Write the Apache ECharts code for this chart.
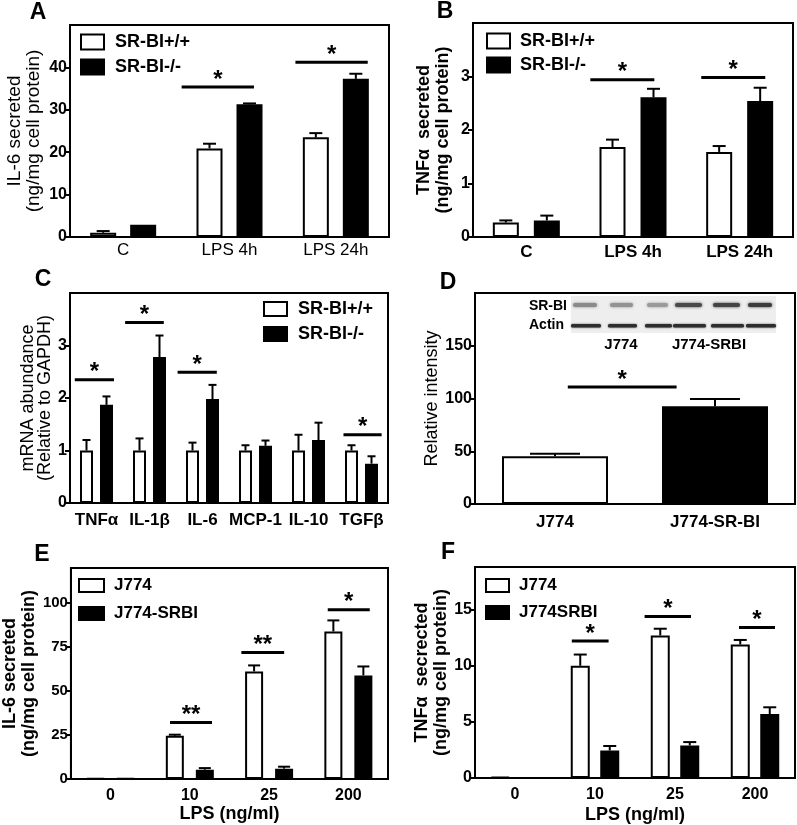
<!DOCTYPE html>
<html><head><meta charset="utf-8">
<script src="https://cdn.jsdelivr.net/npm/echarts@6/dist/echarts.min.js"></script>
<style>html,body{margin:0;padding:0;background:#fff}#c{width:797px;height:825px}</style>
</head><body><div id="c"></div>
<script>
// ---------- Panel A : IL-6 secreted ----------
const catsA = ['C', 'LPS 4h', 'LPS 24h'];
const wtA = [1.0, 20.9, 23.5];
const wtErrA = [1.4, 22.0, 24.5];
const koA = [2.9, 31.3, 37.3];
const koErrA = [3.0, 31.5, 38.5];
const yTicksA = [0, 10, 20, 30, 40];
const sigCatA = [1, 2];
const sigYA = [35.4, 41.2];
const sigSpanA = [[-0.45, 0.23], [-0.38, 0.30]];
const sigTextA = ['*', '*'];

// ---------- Panel B : TNFa secreted ----------
const catsB = ['C', 'LPS 4h', 'LPS 24h'];
const wtB = [0.27, 1.68, 1.59];
const wtErrB = [0.31, 1.82, 1.70];
const koB = [0.31, 2.61, 2.54];
const koErrB = [0.40, 2.77, 2.79];
const yTicksB = [0, 1, 2, 3];
const sigCatB = [1, 2];
const sigYB = [2.94, 2.98];
const sigSpanB = [[-0.40, 0.20], [-0.36, 0.24]];
const sigTextB = ['*', '*'];

// ---------- Panel C : mRNA abundance ----------
const catsC = ['TNFα', 'IL-1β', 'IL-6', 'MCP-1', 'IL-10', 'TGFβ'];
const wtC = [1.0, 1.0, 1.0, 1.0, 1.0, 1.0];
const wtErrC = [1.20, 1.23, 1.15, 1.10, 1.30, 1.10];
const koC = [1.87, 2.78, 1.98, 1.09, 1.20, 0.75];
const koErrC = [2.03, 3.19, 2.25, 1.19, 1.53, 0.89];
const yTicksC = [0, 1, 2, 3];
const sigCatC = [0, 1, 2, 5];
const sigYC = [2.35, 3.44, 2.49, 1.30];
const sigSpanC = [[-0.41, 0.33], [-0.46, 0.27], [-0.47, 0.27], [-0.34, 0.38]];
const sigTextC = ['*', '*', '*', '*'];

// ---------- Panel D : Relative intensity ----------
const catsD = ['J774', 'J774-SR-BI'];
const valD = [45.2, 92.6];
const errD = [47.7, 99.5];
const yTicksD = [0, 50, 100, 150];
const sigCatD = [0];
const sigYD = [111];
const sigSpanD = [[0.08, 0.76]];
const sigTextD = ['*'];
const blotRowLabels = ['SR-BI', 'Actin'];
const blotGroupLabels = ['J774', 'J774-SRBI'];

// ---------- Panel E : IL-6 vs LPS dose ----------
const catsE = ['0', '10', '25', '200'];
const wtE = [0.4, 24.6, 61.2, 83.9];
const wtErrE = [0.4, 25.2, 64.6, 90.2];
const koE = [0.2, 5.3, 5.9, 58.9];
const koErrE = [0.2, 6.2, 7.0, 64.0];
const yTicksE = [0, 25, 50, 75, 100];
const sigCatE = [1, 2, 3];
const sigYE = [32.2, 72, 96.2];
const sigSpanE = [[-0.25, 0.28], [-0.35, 0.19], [-0.26, 0.27]];
const sigTextE = ['**', '**', '*'];

// ---------- Panel F : TNFa vs LPS dose ----------
const catsF = ['0', '10', '25', '200'];
const wtF = [0.1, 10.0, 12.7, 11.9];
const wtErrF = [0.1, 11.0, 13.3, 12.3];
const koF = [0, 2.45, 2.9, 5.7];
const koErrF = [0, 2.85, 3.2, 6.3];
const yTicksF = [0, 5, 10, 15];
const sigCatF = [1, 2, 3];
const sigYF = [12.2, 14.4, 13.4];
const sigSpanF = [[-0.29, 0.17], [-0.38, 0.20], [-0.20, 0.25]];
const sigTextF = ['*', '*', '*'];

const FONT = '"Liberation Sans", Arial, Helvetica, sans-serif';

const panels = [
  { letter: 'A', letterPos: [38, 13], grid: { left: 70, top: 25, width: 319, height: 212 },
    cats: catsA, yMax: 50, yTicks: yTicksA, yName: 'IL-6 secreted\n(ng/mg cell protein)',
    yNameWeight: 'normal', yNameSize: 19, yNameGap: 27, yNameLH: 19,
    xLabelWeight: 'normal', xLabelSize: 17, xMargin: 5,
    series: [{ name: 'SR-BI+/+', data: wtA, err: wtErrA, fill: '#fff' }, { name: 'SR-BI-/-', data: koA, err: koErrA, fill: '#000' }],
    bw: 26, gap: 14, cap: 6.5,
    sig: { cat: sigCatA, y: sigYA, span: sigSpanA, text: sigTextA },
    legend: { left: 80, top: 33, iw: 23, ih: 15, gapY: 7, size: 18, pad: 6 } },
  { letter: 'B', letterPos: [445, 12], grid: { left: 473, top: 23, width: 320, height: 214 },
    cats: catsB, yMax: 4, yTicks: yTicksB, yName: 'TNFα  secreted\n(ng/mg cell protein)',
    yNameWeight: 'bold', yNameSize: 18, yNameGap: 20, yNameLH: 19,
    xLabelWeight: 'bold', xLabelSize: 17, xMargin: 7,
    series: [{ name: 'SR-BI+/+', data: wtB, err: wtErrB, fill: '#fff' }, { name: 'SR-BI-/-', data: koB, err: koErrB, fill: '#000' }],
    bw: 26, gap: 15, cap: 6.5,
    sig: { cat: sigCatB, y: sigYB, span: sigSpanB, text: sigTextB },
    legend: { left: 486, top: 32, iw: 23, ih: 15, gapY: 6, size: 18, pad: 5 } },
  { letter: 'C', letterPos: [43, 280], grid: { left: 70, top: 293, width: 318, height: 210 },
    cats: catsC, yMax: 4, yTicks: yTicksC, yName: 'mRNA abundance\n(Relative to GAPDH)',
    yNameWeight: 'normal', yNameSize: 18, yNameGap: 16, yNameLH: 17,
    xLabelWeight: 'bold', xLabelSize: 17, xMargin: 9,
    series: [{ name: 'SR-BI+/+', data: wtC, err: wtErrC, fill: '#fff' }, { name: 'SR-BI-/-', data: koC, err: koErrC, fill: '#000' }],
    bw: 13, gap: 7, cap: 4,
    sig: { cat: sigCatC, y: sigYC, span: sigSpanC, text: sigTextC },
    legend: { left: 263, top: 300, iw: 23, ih: 14, gapY: 7, size: 18, pad: 6 } },
  { letter: 'D', letterPos: [448, 283], grid: { left: 475, top: 293, width: 320, height: 211 },
    cats: catsD, yMax: 200, yTicks: yTicksD, yName: 'Relative intensity',
    yNameWeight: 'normal', yNameSize: 18, yNameGap: 33, yNameLH: 19,
    xLabelWeight: 'bold', xLabelSize: 17, xMargin: 10,
    single: { name: 'Relative intensity', data: valD, err: errD, fills: ['#fff', '#000'] },
    bw: 106, gap: 0, cap: 25,
    sig: { cat: sigCatD, y: sigYD, span: sigSpanD, text: sigTextD } },
  { letter: 'E', letterPos: [42, 555], grid: { left: 69, top: 568, width: 319, height: 211 },
    cats: catsE, yMax: 120, yTicks: yTicksE, yName: 'IL-6 secreted\n(ng/mg cell protein)',
    yNameWeight: 'bold', yNameSize: 18, yNameGap: 27, yNameLH: 19,
    xLabelWeight: 'bold', xLabelSize: 16, xMargin: 9, xName: 'LPS (ng/ml)', xNameGap: 26,
    series: [{ name: 'J774', data: wtE, err: wtErrE, fill: '#fff' }, { name: 'J774-SRBI', data: koE, err: koErrE, fill: '#000' }],
    bw: 18, gap: 12, cap: 6,
    sig: { cat: sigCatE, y: sigYE, span: sigSpanE, text: sigTextE },
    legend: { left: 78, top: 577, iw: 25, ih: 13, gapY: 11, size: 17, pad: 5 }, tickSize: 15 },
  { letter: 'F', letterPos: [448, 553], grid: { left: 475, top: 567, width: 320, height: 212 },
    cats: catsF, yMax: 18.8, yTicks: yTicksF, yName: 'TNFα  secrected\n(ng/mg cell protein)',
    yNameWeight: 'bold', yNameSize: 18, yNameGap: 24, yNameLH: 19,
    xLabelWeight: 'bold', xLabelSize: 16, xMargin: 9, xName: 'LPS (ng/ml)', xNameGap: 28,
    series: [{ name: 'J774', data: wtF, err: wtErrF, fill: '#fff' }, { name: 'J774SRBI', data: koF, err: koErrF, fill: '#000' }],
    bw: 19, gap: 10.5, cap: 6.5,
    sig: { cat: sigCatF, y: sigYF, span: sigSpanF, text: sigTextF },
    legend: { left: 485, top: 577, iw: 23, ih: 13, gapY: 10, size: 17, pad: 5 } }
];

function errRenderer(offset, capHalf) {
  return function (params, api) {
    const top = api.coord([api.value(0), api.value(1)]);
    const base = api.coord([api.value(0), api.value(2)]);
    if (top[1] >= base[1] - 0.5) return null;
    const x = top[0] + offset;
    return { type: 'group', children: [
      { type: 'line', shape: { x1: x, y1: base[1], x2: x, y2: top[1] }, style: { stroke: '#000', lineWidth: 2 } },
      { type: 'line', shape: { x1: x - capHalf, y1: top[1], x2: x + capHalf, y2: top[1] }, style: { stroke: '#000', lineWidth: 2 } }
    ] };
  };
}
function sigRenderer(sig) {
  return function (params, api) {
    const i = params.dataIndex;
    const p = api.coord([api.value(0), api.value(1)]);
    const bwid = api.size([1, 0])[0];
    const x1 = p[0] + sig.span[i][0] * bwid, x2 = p[0] + sig.span[i][1] * bwid;
    return { type: 'group', children: [
      { type: 'line', shape: { x1: x1, y1: p[1], x2: x2, y2: p[1] }, style: { stroke: '#000', lineWidth: 3 } },
      { type: 'text', x: (x1 + x2) / 2, y: p[1] - 7, style: { text: sig.text[i], fill: '#000', font: 'bold 24px ' + FONT, align: 'center', verticalAlign: 'middle' } }
    ] };
  };
}

const option = { animation: false, backgroundColor: '#fff', textStyle: { fontFamily: FONT, color: '#000' },
  grid: [], xAxis: [], yAxis: [], series: [], legend: [], graphic: [] };

panels.forEach(function (p, k) {
  option.grid.push(Object.assign({ show: true, borderColor: '#000', borderWidth: 2, backgroundColor: 'transparent' }, p.grid));
  option.xAxis.push({
    type: 'category', gridIndex: k, data: p.cats,
    name: p.xName || '', nameLocation: 'middle', nameGap: p.xNameGap || 20,
    nameTextStyle: { fontSize: 18, fontWeight: 'bold', color: '#000', fontFamily: FONT },
    axisLine: { lineStyle: { color: '#000', width: 2 } },
    axisTick: { alignWithLabel: true, length: 5, lineStyle: { color: '#000', width: 2 } },
    axisLabel: { interval: 0, margin: p.xMargin, fontSize: p.xLabelSize, fontWeight: p.xLabelWeight, color: '#000', fontFamily: FONT },
    splitLine: { show: false }
  });
  option.yAxis.push({
    type: 'value', gridIndex: k, min: 0, max: p.yMax,
    name: p.yName, nameLocation: 'middle', nameGap: p.yNameGap, nameRotate: 90,
    nameTextStyle: { fontSize: p.yNameSize, fontWeight: p.yNameWeight, lineHeight: p.yNameLH, color: '#000', fontFamily: FONT, align: 'center' },
    axisLine: { show: true, lineStyle: { color: '#000', width: 2 } },
    axisTick: { show: true, length: 5, lineStyle: { color: '#000', width: 2 }, customValues: p.yTicks },
    axisLabel: { margin: 3, fontSize: p.tickSize || 16, fontWeight: 'bold', color: '#000', fontFamily: FONT, customValues: p.yTicks },
    splitLine: { show: false }
  });
  const off = (p.bw + p.gap) / 2;
  if (p.series) {
    p.series.forEach(function (s, j) {
      option.series.push({ type: 'bar', name: s.name, xAxisIndex: k, yAxisIndex: k, data: s.data,
        barWidth: p.bw, barGap: (p.gap / p.bw * 100) + '%', z: 2,
        itemStyle: { color: s.fill, borderColor: '#000', borderWidth: 2 } });
    });
    p.series.forEach(function (s, j) {
      option.series.push({ type: 'custom', xAxisIndex: k, yAxisIndex: k, z: 3, silent: true,
        renderItem: errRenderer(j === 0 ? -off : off, p.cap),
        data: s.data.map(function (v, i) { return [i, s.err[i], v]; }) });
    });
  } else {
    const s = p.single;
    option.series.push({ type: 'bar', name: s.name, xAxisIndex: k, yAxisIndex: k, barWidth: p.bw, z: 2,
      data: s.data.map(function (v, i) { return { value: v, itemStyle: { color: s.fills[i], borderColor: '#000', borderWidth: 2 } }; }) });
    option.series.push({ type: 'custom', xAxisIndex: k, yAxisIndex: k, z: 3, silent: true,
      renderItem: errRenderer(0, p.cap),
      data: s.data.map(function (v, i) { return [i, s.err[i], v]; }) });
  }
  option.series.push({ type: 'custom', xAxisIndex: k, yAxisIndex: k, z: 4, silent: true,
    renderItem: sigRenderer(p.sig),
    data: p.sig.cat.map(function (c, i) { return [c, p.sig.y[i]]; }) });
  if (p.legend) {
    const L = p.legend;
    option.legend.push({ show: true, orient: 'vertical', left: L.left, top: L.top, padding: 0,
      itemWidth: L.iw, itemHeight: L.ih, itemGap: L.gapY, selectedMode: false, icon: 'rect',
      data: p.series.map(function (s) { return s.name; }),
      itemStyle: { borderWidth: 2, borderColor: '#000' },
      textStyle: { fontSize: L.size, fontWeight: 'bold', color: '#000', fontFamily: FONT, padding: [0, 0, 0, L.pad], lineHeight: L.ih + 1 } });
  }
  option.graphic.push({ type: 'text', x: p.letterPos[0], y: p.letterPos[1], z: 10,
    style: { text: p.letter, font: 'bold 23px ' + FONT, fill: '#000', align: 'center', verticalAlign: 'middle' } });
});

// Western blot inset (decorative image in panel D)
(function () {
  const g = [];
  g.push({ type: 'rect', shape: { x: 571, y: 296, width: 205, height: 37 }, style: { fill: '#eeeeee' } });
  const bandX = [[573, 24], [610, 23], [647, 21], [675, 27], [713, 27], [748, 24]];
  const srColors = ['#8a8a8a', '#929292', '#9a9a9a', '#4a4a4a', '#444', '#3a3a3a'];
  bandX.forEach(function (b, i) {
    g.push({ type: 'rect', shape: { x: b[0], y: 303, width: b[1], height: 4, r: 2 }, style: { fill: srColors[i], shadowBlur: 3, shadowColor: srColors[i] } });
    g.push({ type: 'rect', shape: { x: b[0] - 2, y: 324, width: b[1] + 6, height: 3.5, r: 1.5 }, style: { fill: '#2e2e2e', shadowBlur: 2, shadowColor: '#555' } });
  });
  g.push({ type: 'text', x: 567, y: 306, style: { text: blotRowLabels[0], font: 'bold 14px ' + FONT, fill: '#000', align: 'right', verticalAlign: 'middle' } });
  g.push({ type: 'text', x: 564, y: 325, style: { text: blotRowLabels[1], font: 'bold 14px ' + FONT, fill: '#000', align: 'right', verticalAlign: 'middle' } });
  g.push({ type: 'text', x: 621, y: 345, style: { text: blotGroupLabels[0], font: 'bold 15px ' + FONT, fill: '#000', align: 'center', verticalAlign: 'middle' } });
  g.push({ type: 'text', x: 709, y: 345, style: { text: blotGroupLabels[1], font: 'bold 15px ' + FONT, fill: '#000', align: 'center', verticalAlign: 'middle' } });
  option.graphic.push({ type: 'group', z: 5, children: g });
})();

const chart = echarts.init(document.getElementById('c'), null, { renderer: 'canvas' });
chart.setOption(option);
</script>
</body></html>
